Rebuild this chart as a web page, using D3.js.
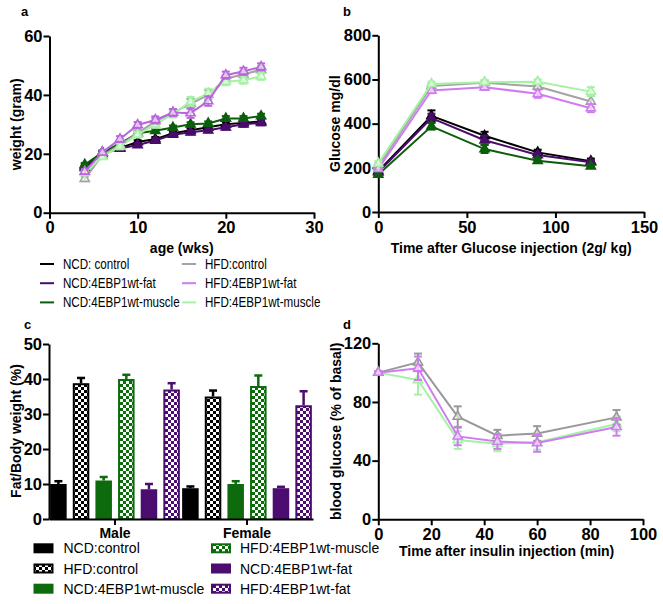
<!DOCTYPE html>
<html><head><meta charset="utf-8">
<script src="https://cdn.jsdelivr.net/npm/d3@7"></script>
<style>body{margin:0;background:#fff} svg{display:block} text{font-family:"Liberation Sans",Arial,sans-serif}</style>
</head><body><svg id="chart" width="663" height="604"></svg>
<script>
// ---------- DATA ----------
const groupNames = ["NCD: control","NCD:4EBP1wt-fat","NCD:4EBP1wt-muscle","HFD:control","HFD:4EBP1wt-fat","HFD:4EBP1wt-muscle"];
// panel a: body weight (g) by age (wks)
const ageWks = [4,6,8,10,12,14,16,18,20,22,24];
const wNcdControl = [15.8,20.5,22,24,25,27,28,29,30,30.5,31];
const wNcdFat     = [15.2,20,21.8,23,24.5,26.5,27.3,28,29,30,30.5];
const wNcdMuscle  = [16.3,20.4,23.5,27,27.8,28.9,30,30.3,32,32,32.8];
const wHfdControl = [11.5,19.5,23,27,31,34,37,40,45.5,47,48.5];
const wHfdFat     = [14,20.5,25,29.8,31.5,34,33.8,37.9,46.7,48,49.5];
const wHfdMuscle  = [13.5,19,22.5,26.5,30,33.5,37.7,40.5,44.5,45,46.3];
const wErrNcd = [0.6,0.5,0.6,0.6,0.7,0.7,0.7,0.7,0.8,0.8,0.8];
const wErrHfd = [0.8,0.8,1,1,1.2,1.2,1.6,1.6,1.2,1.2,1.2];
// panel b: glucose tolerance
const gttTime = [0,30,60,90,120];
const gNcdControl = [185,435,345,270,230];
const gNcdFat     = [180,425,325,258,225];
const gNcdMuscle  = [170,388,285,232,207];
const gHfdControl = [210,570,585,568,500];
const gHfdFat     = [195,550,565,535,470];
const gHfdMuscle  = [220,580,588,590,545];
const gErrNcdControl = [10,25,18,12,12];
const gErrNcdFat     = [10,20,20,10,10];
const gErrNcdMuscle  = [10,15,18,10,8];
const gErrHfdControl = [10,10,10,12,25];
const gErrHfdFat     = [10,12,12,18,18];
const gErrHfdMuscle  = [10,10,10,10,20];
// panel c: fat / body weight (%)
const sexes = ["Male","Female"];
const barGroups = ["NCD:control","HFD:control","NCD:4EBP1wt-muscle","HFD:4EBP1wt-muscle","NCD:4EBP1wt-fat","HFD:4EBP1wt-fat"];
const fatMale   = [10,38.8,11,40,8.5,37];
const fatFemale = [8.8,35,10,38,8.8,32.5];
const fatErrMale   = [0.8,1.5,1,1.2,1.5,1.8];
const fatErrFemale = [0.5,1.7,0.8,3,0.4,4];
// panel d: insulin tolerance (% of basal)
const ittTime = [0,15,30,45,60,90];
const iHfdControl = [100,107,70,57,58.5,69.5];
const iHfdFat     = [100,103,56.5,53,52,63];
const iHfdMuscle  = [100,95,54,51.5,52.5,65];
const iErrHfdControl = [1,6,7,4,5,5];
const iErrHfdFat     = [1,8,6,5,6,6];
const iErrHfdMuscle  = [1,10,6,5,5,5];
// ---------- STYLE ----------
const cBlack="#000000", cPurple="#4a0c6b", cGreen="#0b5e0b", cGray="#a3a3a3", cViolet="#cf7cef", cLGreen="#a5f2a5";
const barPurple="#4b0d70", barGreen="#0d6b0d";

const svg = d3.select("#chart");
const defs = svg.append("defs");
function checker(id,color){
  const p = defs.append("pattern").attr("id",id).attr("patternUnits","userSpaceOnUse").attr("width",6).attr("height",6);
  p.append("rect").attr("width",6).attr("height",6).attr("fill","#fff");
  p.append("rect").attr("width",3).attr("height",3).attr("fill",color);
  p.append("rect").attr("x",3).attr("y",3).attr("width",3).attr("height",3).attr("fill",color);
}
checker("chkBlack",cBlack); checker("chkGreen",barGreen); checker("chkPurple",barPurple);

function styleAxis(sel){
  sel.select(".domain").attr("stroke","#000").attr("stroke-width",2);
  sel.selectAll(".tick line").attr("stroke","#000").attr("stroke-width",2);
  sel.selectAll(".tick text").attr("font-size",16.5).attr("font-weight","bold").attr("fill","#000")
     .attr("font-family",'"Liberation Sans",Arial,sans-serif');
}

function linePanel(o){
  const x = d3.scaleLinear().domain(o.xDom).range(o.xR);
  const y = d3.scaleLinear().domain(o.yDom).range(o.yR);
  const g = svg.append("g");
  const ax = g.append("g").attr("transform",`translate(0,${o.yR[0]})`)
    .call(d3.axisBottom(x).tickValues(o.xTicks).tickSize(6).tickPadding(3).tickSizeOuter(0));
  styleAxis(ax);
  const ay = g.append("g").attr("transform",`translate(${o.xR[0]},0)`)
    .call(d3.axisLeft(y).tickValues(o.yTicks).tickSize(6).tickPadding(1).tickSizeOuter(0));
  styleAxis(ay);
  const line = d3.line().x((d,i)=>x(o.xs[i])).y(d=>y(d));
  o.series.forEach(s=>{
    const sg = g.append("g");
    sg.append("path").attr("d",line(s.v)).attr("fill","none").attr("stroke",s.c).attr("stroke-width",2);
    s.v.forEach((v,i)=>{
      const e = s.e[i], cx = x(o.xs[i]);
      sg.append("line").attr("x1",cx).attr("x2",cx).attr("y1",y(v-e)).attr("y2",y(v+e)).attr("stroke",s.c).attr("stroke-width",2);
      [v-e,v+e].forEach(t=>sg.append("line").attr("x1",cx-4).attr("x2",cx+4).attr("y1",y(t)).attr("y2",y(t)).attr("stroke",s.c).attr("stroke-width",2));
      const sym = d3.symbol().type(d3.symbolTriangle).size(36);
      sg.append("path").attr("d",sym()).attr("transform",`translate(${cx},${y(v)})`)
        .attr("fill",s.open?"#fff":s.c).attr("fill-opacity",s.open?0.6:1).attr("stroke",s.c).attr("stroke-width",1.6);
    });
  });
  // titles
  g.append("text").attr("x",(o.xR[0]+o.xR[1])/2+(o.xtDx||0)).attr("y",o.xtY).attr("text-anchor","middle")
    .attr("font-size",14).attr("font-weight","bold").text(o.xTitle);
  g.append("text").attr("transform",`translate(${o.ytX},${(o.yR[0]+o.yR[1])/2}) rotate(-90)`).attr("text-anchor","middle")
    .attr("dy","0.35em").attr("font-size",14).attr("font-weight","bold").text(o.yTitle);
  g.append("text").attr("x",o.lab[0]).attr("y",o.lab[1]).attr("font-size",13).attr("font-weight","bold").text(o.label);
}

// Panel a
linePanel({xDom:[0,30],xR:[49.5,314],yDom:[0,60],yR:[212.7,36],xTicks:[0,10,20,30],yTicks:[0,20,40,60],xs:ageWks,
  series:[
    {v:wNcdControl,e:wErrNcd,c:cBlack},
    {v:wNcdFat,e:wErrNcd,c:cPurple},
    {v:wNcdMuscle,e:wErrNcd,c:cGreen},
    {v:wHfdControl,e:wErrHfd,c:cGray,open:true},
    {v:wHfdMuscle,e:wErrHfd,c:cLGreen,open:true},
    {v:wHfdFat,e:wErrHfd,c:"#b865dc",open:true}
  ],xTitle:"age (wks)",xtY:253,yTitle:"weight (gram)",ytX:16,label:"a",lab:[21,16]});

// Panel b
linePanel({xDom:[0,150],xR:[378.3,644],yDom:[0,800],yR:[212,35.3],xTicks:[0,50,100,150],yTicks:[0,200,400,600,800],xs:gttTime,
  series:[
    {v:gNcdControl,e:gErrNcdControl,c:cBlack},
    {v:gNcdFat,e:gErrNcdFat,c:cPurple},
    {v:gNcdMuscle,e:gErrNcdMuscle,c:cGreen},
    {v:gHfdControl,e:gErrHfdControl,c:cGray,open:true},
    {v:gHfdFat,e:gErrHfdFat,c:cViolet,open:true},
    {v:gHfdMuscle,e:gErrHfdMuscle,c:cLGreen,open:true}
  ],xTitle:"Time after Glucose injection (2g/ kg)",xtY:253,yTitle:"Glucose mg/dl",ytX:335,label:"b",lab:[343,16]});

// Panel d
linePanel({xDom:[0,100],xR:[378.3,643],yDom:[0,120],yR:[519.3,343.3],xTicks:[0,20,40,60,80,100],yTicks:[0,40,80,120],xs:ittTime,
  series:[
    {v:iHfdMuscle,e:iErrHfdMuscle,c:cLGreen,open:true},
    {v:iHfdControl,e:iErrHfdControl,c:"#999999",open:true},
    {v:iHfdFat,e:iErrHfdFat,c:cViolet,open:true}
  ],xTitle:"Time after insulin injection (min)",xtY:556,xtDx:-4,yTitle:"blood glucose (% of basal)",ytX:336,label:"d",lab:[343,329]});

// Top legend (panels a,b) - condensed text
const legLines = [
  [cBlack,"NCD: control",0,0],[cPurple,"NCD:4EBP1wt-fat",0,1],[cGreen,"NCD:4EBP1wt-muscle",0,2],
  [cGray,"HFD:control",1,0],[cViolet,"HFD:4EBP1wt-fat",1,1],[cLGreen,"HFD:4EBP1wt-muscle",1,2]];
const topLeg = svg.append("g");
legLines.forEach(([c,t,col,row])=>{
  const lx = col? 182:40, ty = 264 + row*19.2;
  topLeg.append("line").attr("x1",lx).attr("x2",lx+14).attr("y1",ty).attr("y2",ty).attr("stroke",c).attr("stroke-width",2);
  topLeg.append("text").attr("transform",`translate(${lx+23},${ty+5}) scale(0.8,1)`).attr("font-size",14.5).text(t);
});

// Panel c bars
(function(){
  const x0 = d3.scaleBand().domain(sexes).range([49,313]);
  const x1 = d3.scaleBand().domain(barGroups).range([0,x0.bandwidth()]).paddingInner(0.27).paddingOuter(0.05);
  const y = d3.scaleLinear().domain([0,50]).range([519,344]);
  const fills = ["#000","url(#chkBlack)",barGreen,"url(#chkGreen)",barPurple,"url(#chkPurple)"];
  const strokes = ["#000","#000",barGreen,barGreen,barPurple,barPurple];
  const g = svg.append("g");
  const vals = {Male:[fatMale,fatErrMale],Female:[fatFemale,fatErrFemale]};
  sexes.forEach(s=>{
    const [v,e] = vals[s];
    barGroups.forEach((b,i)=>{
      const bx = x0(s)+x1(b), bw = x1.bandwidth(), cx = bx+bw/2;
      g.append("line").attr("x1",cx).attr("x2",cx).attr("y1",y(v[i])).attr("y2",y(v[i]+e[i])).attr("stroke",strokes[i]).attr("stroke-width",2.5);
      g.append("line").attr("x1",cx-4).attr("x2",cx+4).attr("y1",y(v[i]+e[i])).attr("y2",y(v[i]+e[i])).attr("stroke",strokes[i]).attr("stroke-width",2.5);
      g.append("rect").attr("x",bx+1).attr("y",y(v[i])+1).attr("width",bw-2).attr("height",y(0)-y(v[i])-1)
        .attr("fill",fills[i]).attr("stroke",strokes[i]).attr("stroke-width",2);
    });
  });
  const ax = g.append("g").attr("transform","translate(0,519)")
    .call(d3.axisBottom(x0).tickSize(6).tickSizeOuter(0).tickFormat(""));
  styleAxis(ax);
  sexes.forEach(s=>g.append("text").attr("x",x0(s)+x0.bandwidth()/2).attr("y",538).attr("text-anchor","middle")
    .attr("font-size",14).attr("font-weight","bold").text(s));
  const ay = g.append("g").attr("transform","translate(49,0)")
    .call(d3.axisLeft(y).tickValues([0,10,20,30,40,50]).tickSize(6).tickPadding(1).tickSizeOuter(0));
  styleAxis(ay);
  g.append("text").attr("transform","translate(16,431) rotate(-90)").attr("text-anchor","middle").attr("dy","0.35em")
    .attr("font-size",14).attr("font-weight","bold").text("Fat/Body weight (%)");
  g.append("text").attr("x",24).attr("y",329).attr("font-size",13).attr("font-weight","bold").text("c");
  // legend
  barGroups.forEach((name,i)=>{
    const col = Math.floor(i/3), row = i%3;
    const sx = col?211:33.5, sy = 548.3 + row*20.2;
    g.append("rect").attr("x",sx+1).attr("y",sy-4).attr("width",18).attr("height",8)
      .attr("fill",fills[i]).attr("stroke",strokes[i]).attr("stroke-width",2);
    g.append("text").attr("x",col?240:63.5).attr("y",sy+5).attr("font-size",14).text(name);
  });
})();
</script></body></html>
